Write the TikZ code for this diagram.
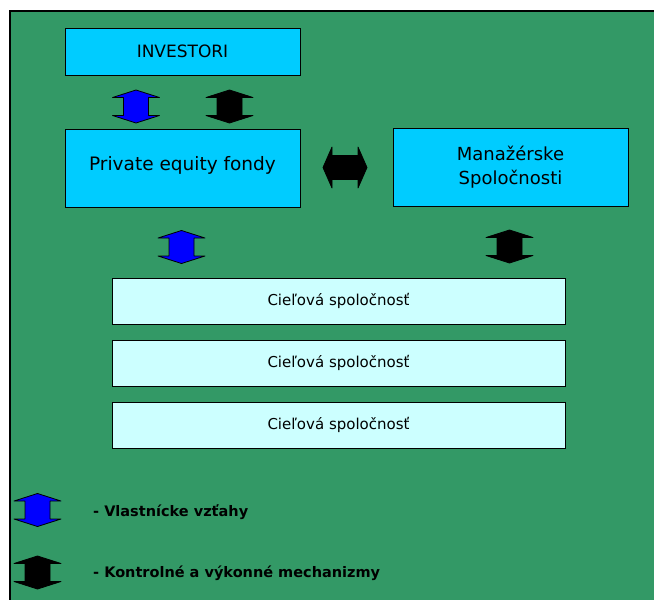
\documentclass[tikz,border=0pt]{standalone}
\usepackage{fontspec}
\setmainfont{DejaVu Sans}
\definecolor{bggreen}{HTML}{339966}
\definecolor{boxcyan}{HTML}{00CCFF}
\definecolor{boxlight}{HTML}{CCFFFF}
\definecolor{arrblue}{HTML}{0000FF}
\tikzset{
  mainbox/.style={draw=black, line width=1pt, fill=boxcyan, inner sep=0pt, align=center},
  targetbox/.style={draw=black, line width=1pt, fill=boxlight, inner sep=0pt, minimum width=453pt, minimum height=46pt, font=\fontsize{15}{18}\selectfont},
  legendtext/.style={anchor=west, inner sep=0pt, font=\bfseries\fontsize{14.5}{17}\selectfont},
  pics/varrow/.style={code={
    \draw[line width=0.8pt, fill=#1, line join=round]
      (0,-16.5) -- (23.5,-9) -- (12.5,-9) -- (12.5,9) -- (23.5,9) -- (0,16.5)
      -- (-23.5,9) -- (-12.5,9) -- (-12.5,-9) -- (-23.5,-9) -- cycle;
  }},
  pics/harrow/.style={code={
    \draw[line width=0.8pt, fill=#1, line join=round]
      (-22,0) -- (-13,-20.5) -- (-13,-12) -- (13,-12) -- (13,-20.5) -- (22,0)
      -- (13,20.5) -- (13,12) -- (-13,12) -- (-13,20.5) -- cycle;
  }}
}
\begin{document}
\begin{tikzpicture}[x=1pt, y=-1pt]
\useasboundingbox (0,0) rectangle (654,600);
% background
\fill[bggreen] (10,11) rectangle (654,600);
\draw[line width=1.2pt, black] (10,600) -- (10,11) -- (654,11);
% main boxes
\node[mainbox, minimum width=235pt, minimum height=47pt, font=\fontsize{17}{20}\selectfont] (inv) at (182.5,51.5) {INVESTORI};
\node[mainbox, minimum width=235pt, minimum height=78pt, font=\fontsize{18.5}{22}\selectfont] (pe) at (182.5,168) {\raisebox{9pt}{Private equity fondy}};
\node[mainbox, minimum width=235pt, minimum height=78pt, font=\fontsize{18}{24}\selectfont] (man) at (510.5,167) {Manažérske\\Spoločnosti};
% target companies
\node[targetbox] (t1) at (338.5,301) {\raisebox{2pt}{Cieľová spoločnosť}};
\node[targetbox] (t2) at (338.5,363) {\raisebox{2pt}{Cieľová spoločnosť}};
\node[targetbox] (t3) at (338.5,425) {\raisebox{2pt}{Cieľová spoločnosť}};
% arrows
\pic at (136,106.5) {varrow=arrblue};
\pic at (229.5,106.5) {varrow=black};
\pic at (345,167.5) {harrow=black};
\pic at (181.5,247) {varrow=arrblue};
\pic at (509.5,246.5) {varrow=black};
% legend
\pic at (37.5,510) {varrow=arrblue};
\pic at (37.5,572.5) {varrow=black};
\node[legendtext] (l1) at (93,512) {- Vlastnícke vzťahy};
\node[legendtext] (l2) at (93,573) {- Kontrolné a výkonné mechanizmy};
\end{tikzpicture}
\end{document}
